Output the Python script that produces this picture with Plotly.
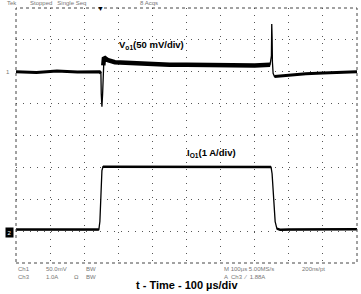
import plotly.graph_objects as go

# Time axis in microseconds (10 div x 100 us), vertical in divisions (8 div)
vo1_t = [0, 60, 120, 180, 245, 249, 250, 252, 254, 256, 258, 262, 270, 290, 320, 360, 400, 450,
         500, 550, 600, 650, 700, 745, 749, 750, 751, 752, 754, 758, 770, 800, 850, 900, 950, 1000]
vo1_v = [6.0, 5.98, 6.02, 5.99, 6.0, 5.95, 5.3, 4.9, 5.3, 6.2, 6.45, 6.42, 6.36, 6.3, 6.28, 6.25,
         6.23, 6.22, 6.22, 6.21, 6.21, 6.2, 6.2, 6.22, 6.5, 7.5, 7.1, 6.3, 5.95, 5.85, 5.86, 5.9,
         5.94, 5.96, 5.98, 6.0]

io1_t = [0, 100, 200, 243, 246, 249, 252, 255, 260, 300, 400, 500, 600, 700, 748, 751, 755,
         760, 765, 775, 800, 900, 1000]
io1_v = [1.05, 1.04, 1.05, 1.05, 1.3, 2.1, 2.9, 3.02, 3.02, 3.01, 3.02, 3.01, 3.02, 3.02, 3.01,
         2.8, 2.0, 1.3, 1.08, 1.04, 1.05, 1.05, 1.06]

title_text = "t - Time - 100 \u00b5s/div"
vo_label = "<b>V<sub>o1</sub>(50 mV/div)</b>"
io_label = "<b>I<sub>O1</sub>(1 A/div)</b>"

fig = go.Figure()
# thin full trace (transitions)
fig.add_trace(go.Scatter(x=vo1_t, y=vo1_v, mode="lines",
                         line=dict(color="black", width=1.3), hoverinfo="skip"))
# noise bands on the steady parts (same data, sliced)
band_slices = [(0, 6, 3), (9, 24, 4.5), (29, 36, 3)]
for a, b, w in band_slices:
    fig.add_trace(go.Scatter(x=vo1_t[a:b], y=vo1_v[a:b], mode="lines",
                             line=dict(color="black", width=w), hoverinfo="skip"))
fig.add_trace(go.Scatter(x=io1_t, y=io1_v, mode="lines",
                         line=dict(color="black", width=1.3), hoverinfo="skip"))
for a, b in [(0, 4), (7, 15), (18, 23)]:
    fig.add_trace(go.Scatter(x=io1_t[a:b], y=io1_v[a:b], mode="lines",
                             line=dict(color="black", width=2.5), hoverinfo="skip"))

axis_common = dict(showline=False, zeroline=False, showticklabels=False, ticks="",
                   showgrid=True, gridcolor="#555555", gridwidth=1, griddash="1px,6px")
fig.update_xaxes(range=[0, 1000], dtick=100, tick0=0, **axis_common)
fig.update_yaxes(range=[0, 8], dtick=1, tick0=0, **axis_common)

fig.add_shape(type="rect", xref="paper", yref="paper", x0=0, y0=0, x1=1, y1=1,
              line=dict(color="#444444", width=1, dash="dot"))

font_main = "Arial, Liberation Sans, sans-serif"
small = dict(family=font_main, size=6, color="#777777")

def px(x):
    return (x - 16) / 341.0

def py(y):
    return (263 - y) / 255.0

ann = []
ann.append(dict(x=0.5, y=py(285), text="<b>" + title_text + "</b>",
                font=dict(family=font_main, size=11, color="black")))
ann.append(dict(x=px(151), y=py(45), text=vo_label,
                font=dict(family=font_main, size=9.5, color="black")))
ann.append(dict(x=px(211), y=py(153), text=io_label,
                font=dict(family=font_main, size=9.5, color="black")))

top_texts = [(5, "Tek"), (28, "Stopped   Single Seq"), (138, "8 Acqs")]
for x, t in top_texts:
    ann.append(dict(x=px(x), y=py(3), text=t, xanchor="left", font=small))

row1 = [(16, "Ch1"), (44, "50.0mV"), (84, "BW"), (222, "M 100\u00b5s 5.00MS/s"), (300, "200ns/pt")]
row2 = [(16, "Ch3"), (44, "1.0A"), (72, "\u03a9"), (84, "BW"), (222, "A  Ch3  \u2215  1.88A")]
for x, t in row1:
    ann.append(dict(x=px(x), y=py(269), text=t, xanchor="left", font=small))
for x, t in row2:
    ann.append(dict(x=px(x), y=py(277), text=t, xanchor="left", font=small))

ann.append(dict(x=px(100), y=py(9), text="\u25bc", font=dict(family=font_main, size=7, color="black")))
ann.append(dict(x=px(8), y=py(72), text="1", font=dict(family=font_main, size=6, color="#777777")))
ann.append(dict(x=px(9), y=py(232), text="2", bgcolor="black", borderpad=1.5,
                font=dict(family=font_main, size=6, color="white")))

for a in ann:
    a.setdefault("xref", "paper")
    a.setdefault("yref", "paper")
    a.setdefault("showarrow", False)
    a.setdefault("xanchor", "center")
    a.setdefault("yanchor", "middle")
    fig.add_annotation(**a)

fig.update_layout(width=361, height=294, margin=dict(l=16, r=4, t=8, b=31),
                  paper_bgcolor="white", plot_bgcolor="white", showlegend=False)

fig.write_html("out.html")
